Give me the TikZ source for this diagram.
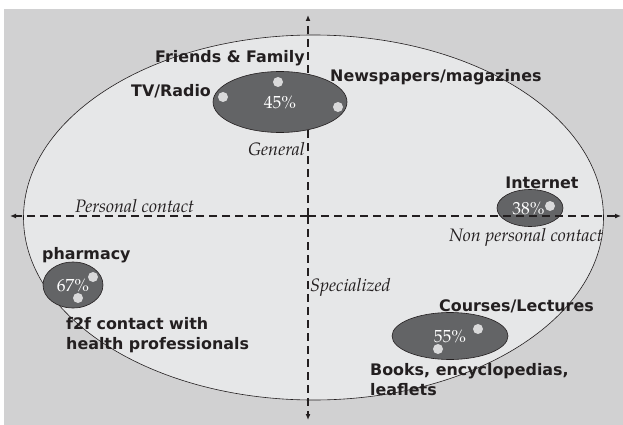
\documentclass[tikz,border=0pt]{standalone}
\usepackage{fontspec}
\usetikzlibrary{arrows.meta,shapes.geometric}
\setmainfont{DejaVu Sans}
\newfontfamily\palfont{texgyrepagella}[Extension=.otf, UprightFont=*-regular, ItalicFont=*-italic, BoldFont=*-bold, BoldItalicFont=*-bolditalic]

\definecolor{bggray}{HTML}{D1D1D2}
\definecolor{fieldgray}{HTML}{E6E7E8}
\definecolor{blobgray}{HTML}{636466}
\definecolor{dotgray}{HTML}{D9D9DA}
\definecolor{inkdark}{HTML}{231F20}

\tikzset{
  field/.style={ellipse, draw=inkdark, line width=0.6pt, fill=fieldgray, inner sep=0pt},
  blob/.style={ellipse, draw=inkdark, line width=0.6pt, fill=blobgray, inner sep=0pt,
    text=white, font=\palfont\fontsize{17.5}{17.5}\selectfont},
  dot/.style={circle, fill=dotgray, inner sep=0pt, minimum size=10pt},
  axis/.style={draw=inkdark, line width=1.8pt, dash pattern=on 8pt off 5pt,
    -{Latex[length=6pt,width=5pt]}},
  medium/.style={text=inkdark, inner sep=0pt, font=\bfseries\fontsize{15.9}{20}\selectfont},
  axislabel/.style={text=inkdark, inner sep=0pt, font=\palfont\itshape\fontsize{18}{20}\selectfont},
}

\begin{document}
\begin{tikzpicture}[x=1pt,y=-1pt]
\useasboundingbox (0,0) rectangle (623,425);
% backdrop
\fill[bggray] (4,9) rectangle (623,425);
% the field of information sources
\node[field, minimum width=580pt, minimum height=365pt] (field) at (313.5,217.5) {};

% axis end points
\coordinate (vtop) at (308,15);
\coordinate (vbot) at (308,420);
\coordinate (hleft) at (10,216);
\coordinate (hright) at (621,216);
\coordinate (vmid) at (308,216);

% vertical axis: general vs specialized
\draw[axis] (vmid) -- (vtop);
\draw[axis] (vmid) -- (vbot);

% general sources
\node[blob, minimum width=134pt, minimum height=61pt] (general) at (280,102) {45\%};
% internet
\node[blob, minimum width=66pt, minimum height=37pt] (internet) at (530,208) {\hspace*{-3pt}38\%};

% horizontal axis: personal vs non personal contact
\draw[axis] (vmid) -- (hleft);
\draw[axis] (vmid) -- (hright);

% pharmacy and courses
\node[blob, minimum width=60pt, minimum height=46pt] (pharm) at (73,285) {\raisebox{-3pt}{67\%}};
\node[blob, minimum width=116pt, minimum height=47pt] (courses) at (450,336) {\raisebox{-2pt}{55\%}};

% source markers
\node[dot] (dfriends) at (278,82) {};
\node[dot] (dtv) at (223,97) {};
\node[dot] (dnews) at (338,107) {};
\node[dot] (dnet) at (550,206) {};
\node[dot] (dpharm) at (93,277) {};
\node[dot] (df2f) at (78,298) {};
\node[dot] (dcourses) at (478,329) {};
\node[dot] (dbooks) at (438,349) {};

% source labels
\node[medium, anchor=west] (lfriends) at (155,58) {Friends \& Family};
\node[medium, anchor=west] (ltv) at (131,91) {TV/Radio};
\node[medium, anchor=west] (lnews) at (330,77) {Newspapers/magazines};
\node[medium] (lnet) at (542,183) {Internet};
\node[medium, anchor=west] (lpharm) at (42,255) {pharmacy};
\node[medium, anchor=west, align=left] (lf2f) at (66,335) {f2f contact with\\health professionals};
\node[medium, anchor=west] (lcourses) at (439,306) {Courses/Lectures};
\node[medium, anchor=west, align=left] (lbooks) at (370,380) {Books, encyclopedias,\\leaflets};

% axis labels
\node[axislabel, anchor=east] (lgeneral) at (305,149) {General};
\node[axislabel, anchor=west] (lpersonal) at (75,206) {Personal contact};
\node[axislabel, anchor=west] (lnonpers) at (449,237) {Non personal contact};
\node[axislabel, anchor=west] (lspecial) at (310,287) {Specialized};
\end{tikzpicture}
\end{document}
